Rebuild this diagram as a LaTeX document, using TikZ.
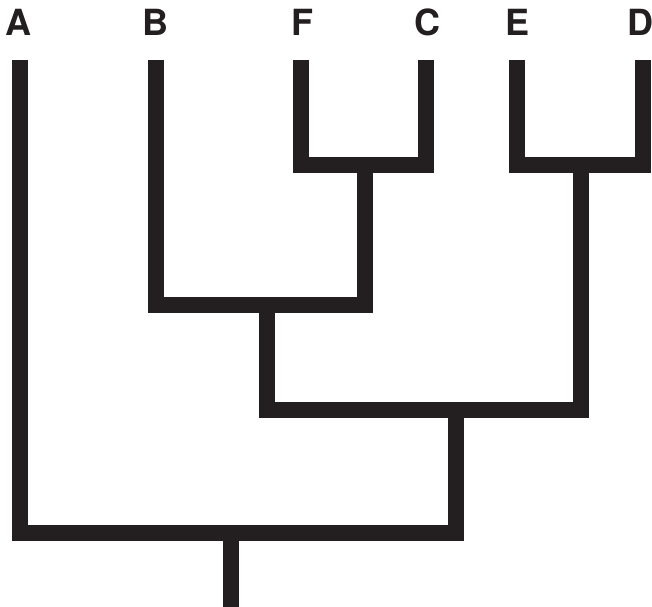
\documentclass[tikz,border=0pt]{standalone}
\usepackage{fontspec}
\setmainfont{TeX Gyre Heros}
\usepackage{tikz}
\definecolor{treeblack}{HTML}{231F20}

\begin{document}
\begin{tikzpicture}[x=0.02cm,y=-0.02cm,
    branch/.style={line width=0.32cm, line join=miter, color=treeblack},
    taxon/.style={anchor=base, inner sep=0pt, text=treeblack,
        font=\fontsize{20.5}{24}\selectfont\bfseries}]
            \useasboundingbox (0,0) rectangle (652,607);

            \coordinate (a) at (20,60);
            \coordinate (b) at (156,60);
            \coordinate (f) at (301,60);
            \coordinate (c) at (426,60);
            \coordinate (e) at (517,60);
            \coordinate (d) at (643,60);

            \coordinate (fc) at (365,165);
            \coordinate (ed) at (581,165);
            \coordinate (bfc) at (267,305);
            \coordinate (core) at (456,410);
            \coordinate (root) at (231,533);
            \coordinate (base) at (231,607);

            \node[taxon] (la) at (19,36) {A};
            \node[taxon] (lb) at (155,36) {B};
            \node[taxon] (lf) at (302,36) {F};
            \node[taxon] (lc) at (427,36) {C};
            \node[taxon] (le) at (518,36) {E};
            \node[taxon] (ld) at (640,36) {D};

            \draw[branch] (f) |- (fc) -| (c);
            \draw[branch] (e) |- (ed) -| (d);
            \draw[branch] (b) |- (bfc) -| (fc);
            \draw[branch] (bfc) |- (core) -| (ed);
            \draw[branch] (a) |- (root) -| (core);
            \draw[branch] (root) -- (base);
        \end{tikzpicture}
\end{document}
